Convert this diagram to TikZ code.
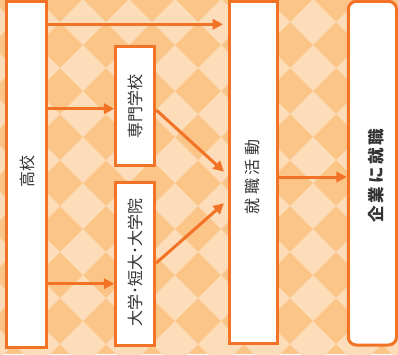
\documentclass[tikz,border=0pt]{standalone}
\usepackage{fontspec}
\usepackage{graphicx}
\usetikzlibrary{arrows.meta}
\newfontfamily\jp{Noto Sans CJK JP}
\newfontfamily\jpsp{Noto Sans CJK JP}[LetterSpace=22]
\newfontfamily\jpb{Noto Sans CJK JP}[LetterSpace=17]
\definecolor{lineor}{RGB}{243,115,38}
\definecolor{bgdark}{RGB}{251,197,136}
\definecolor{bglight}{RGB}{253,220,186}
\definecolor{txtc}{RGB}{51,51,51}
\tikzset{
  box/.style={draw=lineor, line width=3pt, fill=white, inner sep=0pt},
  arr/.style={draw=lineor, line width=3pt, -{Triangle[length=10.5pt,width=10.5pt]}},
  txt/.style={text=txtc, font=\jp\fontsize{16}{16}\selectfont, inner sep=0pt, rotate=90}
}
\begin{document}
\begin{tikzpicture}[x=1pt,y=-1pt]
\useasboundingbox (0,0) rectangle (398,354);
\begin{scope}
\clip (0,0) rectangle (398,354);
\fill[bgdark] (0,0) rectangle (398,354);
\foreach \i in {-2,...,7} \foreach \j in {-1,...,8} {
  \fill[bglight] ({313-46*\i},{22+46*\j}) +(-23,0) -- +(0,-23) -- +(23,0) -- +(0,23) -- cycle;
}
\end{scope}
% boxes
\node[box, minimum width=40pt, minimum height=346.5pt] (koko) at (26.5,174.25) {};
\node[box, minimum width=39pt, minimum height=118.6pt] (senmon) at (135.25,106) {};
\node[box, minimum width=39pt, minimum height=163.8pt] (daigaku) at (135.25,263.9) {};
\node[box, minimum width=48.5pt, minimum height=341.7pt] (katsudo) at (253.25,172.15) {};
\node[box, rounded corners=8pt, minimum width=48.2pt, minimum height=343.7pt] (kigyo) at (372.4,173.15) {};
% texts
\node[txt] (t1) at (27.5,171.5) {高校};
\node[txt] (t2) at (135.5,106.5) {専門学校};
\node[txt] (t3) at (135.5,262) {大学･短大･大学院};
\node[txt, font=\jpsp\fontsize{16}{16}\selectfont] (t4) at (252.5,177) {就職活動};
\node[txt, font=\jpb\bfseries\fontsize{16.5}{16.5}\selectfont] (t5) at (376.5,175.5) {企業に就職};
% arrows
\draw[arr] (koko.east |- 0,24.3) -- ([xshift=-4.5pt]katsudo.west |- 0,24.3);
\draw[arr] (koko.east |- 0,108.7) -- (senmon.west |- 0,108.7);
\draw[arr] (koko.east |- 0,283.7) -- (daigaku.west |- 0,283.7);
\draw[arr] (senmon.east |- 0,110) -- ([xshift=-3.5pt]katsudo.west |- 0,171.7);
\draw[arr] (daigaku.east |- 0,263) -- ([xshift=-3.5pt]katsudo.west |- 0,203.3);
\draw[arr] (katsudo.east |- 0,177) -- (kigyo.west |- 0,177);
\end{tikzpicture}
\end{document}
